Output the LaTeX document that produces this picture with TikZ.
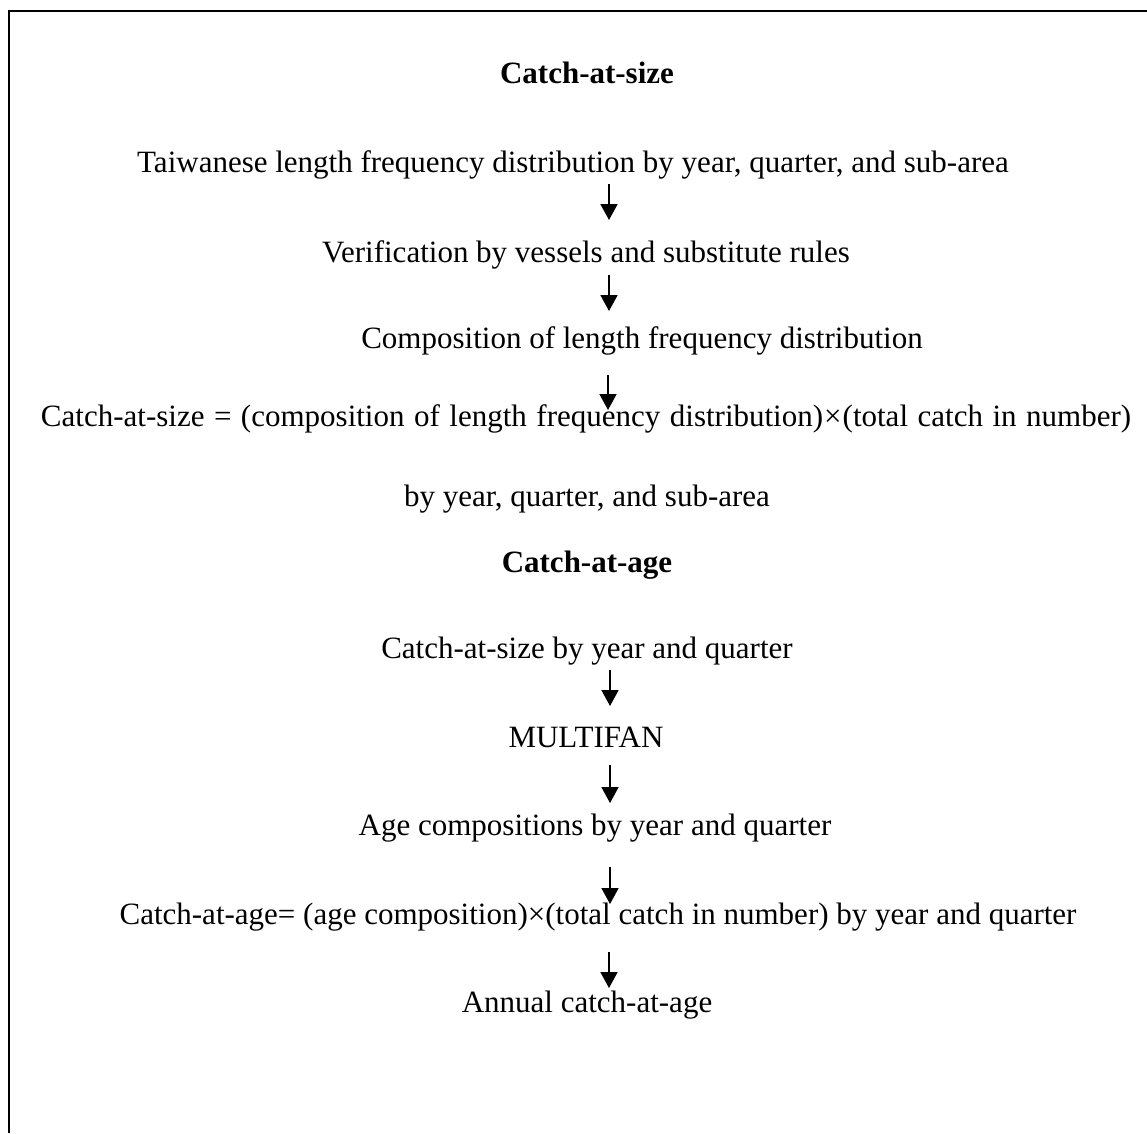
\documentclass[tikz,border=0pt]{standalone}
\usepackage{fontspec}
\setmainfont{Liberation Serif}
\usetikzlibrary{arrows.meta}
\begin{document}
\begin{tikzpicture}[x=1pt,y=-1pt,
  txt/.style={inner sep=0pt,anchor=base,font=\fontsize{31}{36}\selectfont},
  head/.style={txt,font=\fontsize{31}{36}\selectfont\bfseries},
  flow/.style={line width=1.7pt,-{Triangle[width=17pt,length=16pt]}}]
\useasboundingbox (0,0) rectangle (1147,1133);
\draw[line width=2pt] (8.5,1133) -- (8.5,10.5) -- (1147,10.5);
% Catch-at-size section
\node[head] (h1) at (587,83) {Catch-at-size};
\node[txt] (s1) at (573,172) {Taiwanese length frequency distribution by year, quarter, and sub-area};
\node[txt] (s2) at (586,262) {Verification by vessels and substitute rules};
\node[txt] (s3) at (642,348) {Composition of length frequency distribution};
\node[txt] (s4) at (586,426) {\spaceskip=9.5pt Catch-at-size = (composition of length frequency distribution)\kern1pt×\kern1pt(total catch in number)};
\node[txt] (s5) at (587,506) {by year, quarter, and sub-area};
% Catch-at-age section
\node[head] (h2) at (587,572) {Catch-at-age};
\node[txt] (g1) at (587,658) {Catch-at-size by year and quarter};
\node[txt] (g2) at (586,747) {MULTIFAN};
\node[txt] (g3) at (595,835) {Age compositions by year and quarter};
\node[txt] (g4) at (598,924) {Catch-at-age= (age composition)×(total catch in number) by year and quarter};
\node[txt] (g5) at (587,1012) {Annual catch-at-age};
% arrows
\coordinate (a1s) at (609,184); \coordinate (a1e) at (609,220);
\coordinate (a2s) at (609,275); \coordinate (a2e) at (609,311);
\coordinate (a3s) at (608,375); \coordinate (a3e) at (608,410);
\coordinate (b1s) at (610,670); \coordinate (b1e) at (610,706);
\coordinate (b2s) at (610,765); \coordinate (b2e) at (610,803);
\coordinate (b3s) at (610,867); \coordinate (b3e) at (610,904);
\coordinate (b4s) at (609,952); \coordinate (b4e) at (609,988);
\draw[flow] (a1s) -- (a1e);
\draw[flow] (a2s) -- (a2e);
\draw[flow] (a3s) -- (a3e);
\draw[flow] (b1s) -- (b1e);
\draw[flow] (b2s) -- (b2e);
\draw[flow] (b3s) -- (b3e);
\draw[flow] (b4s) -- (b4e);
\end{tikzpicture}
\end{document}
